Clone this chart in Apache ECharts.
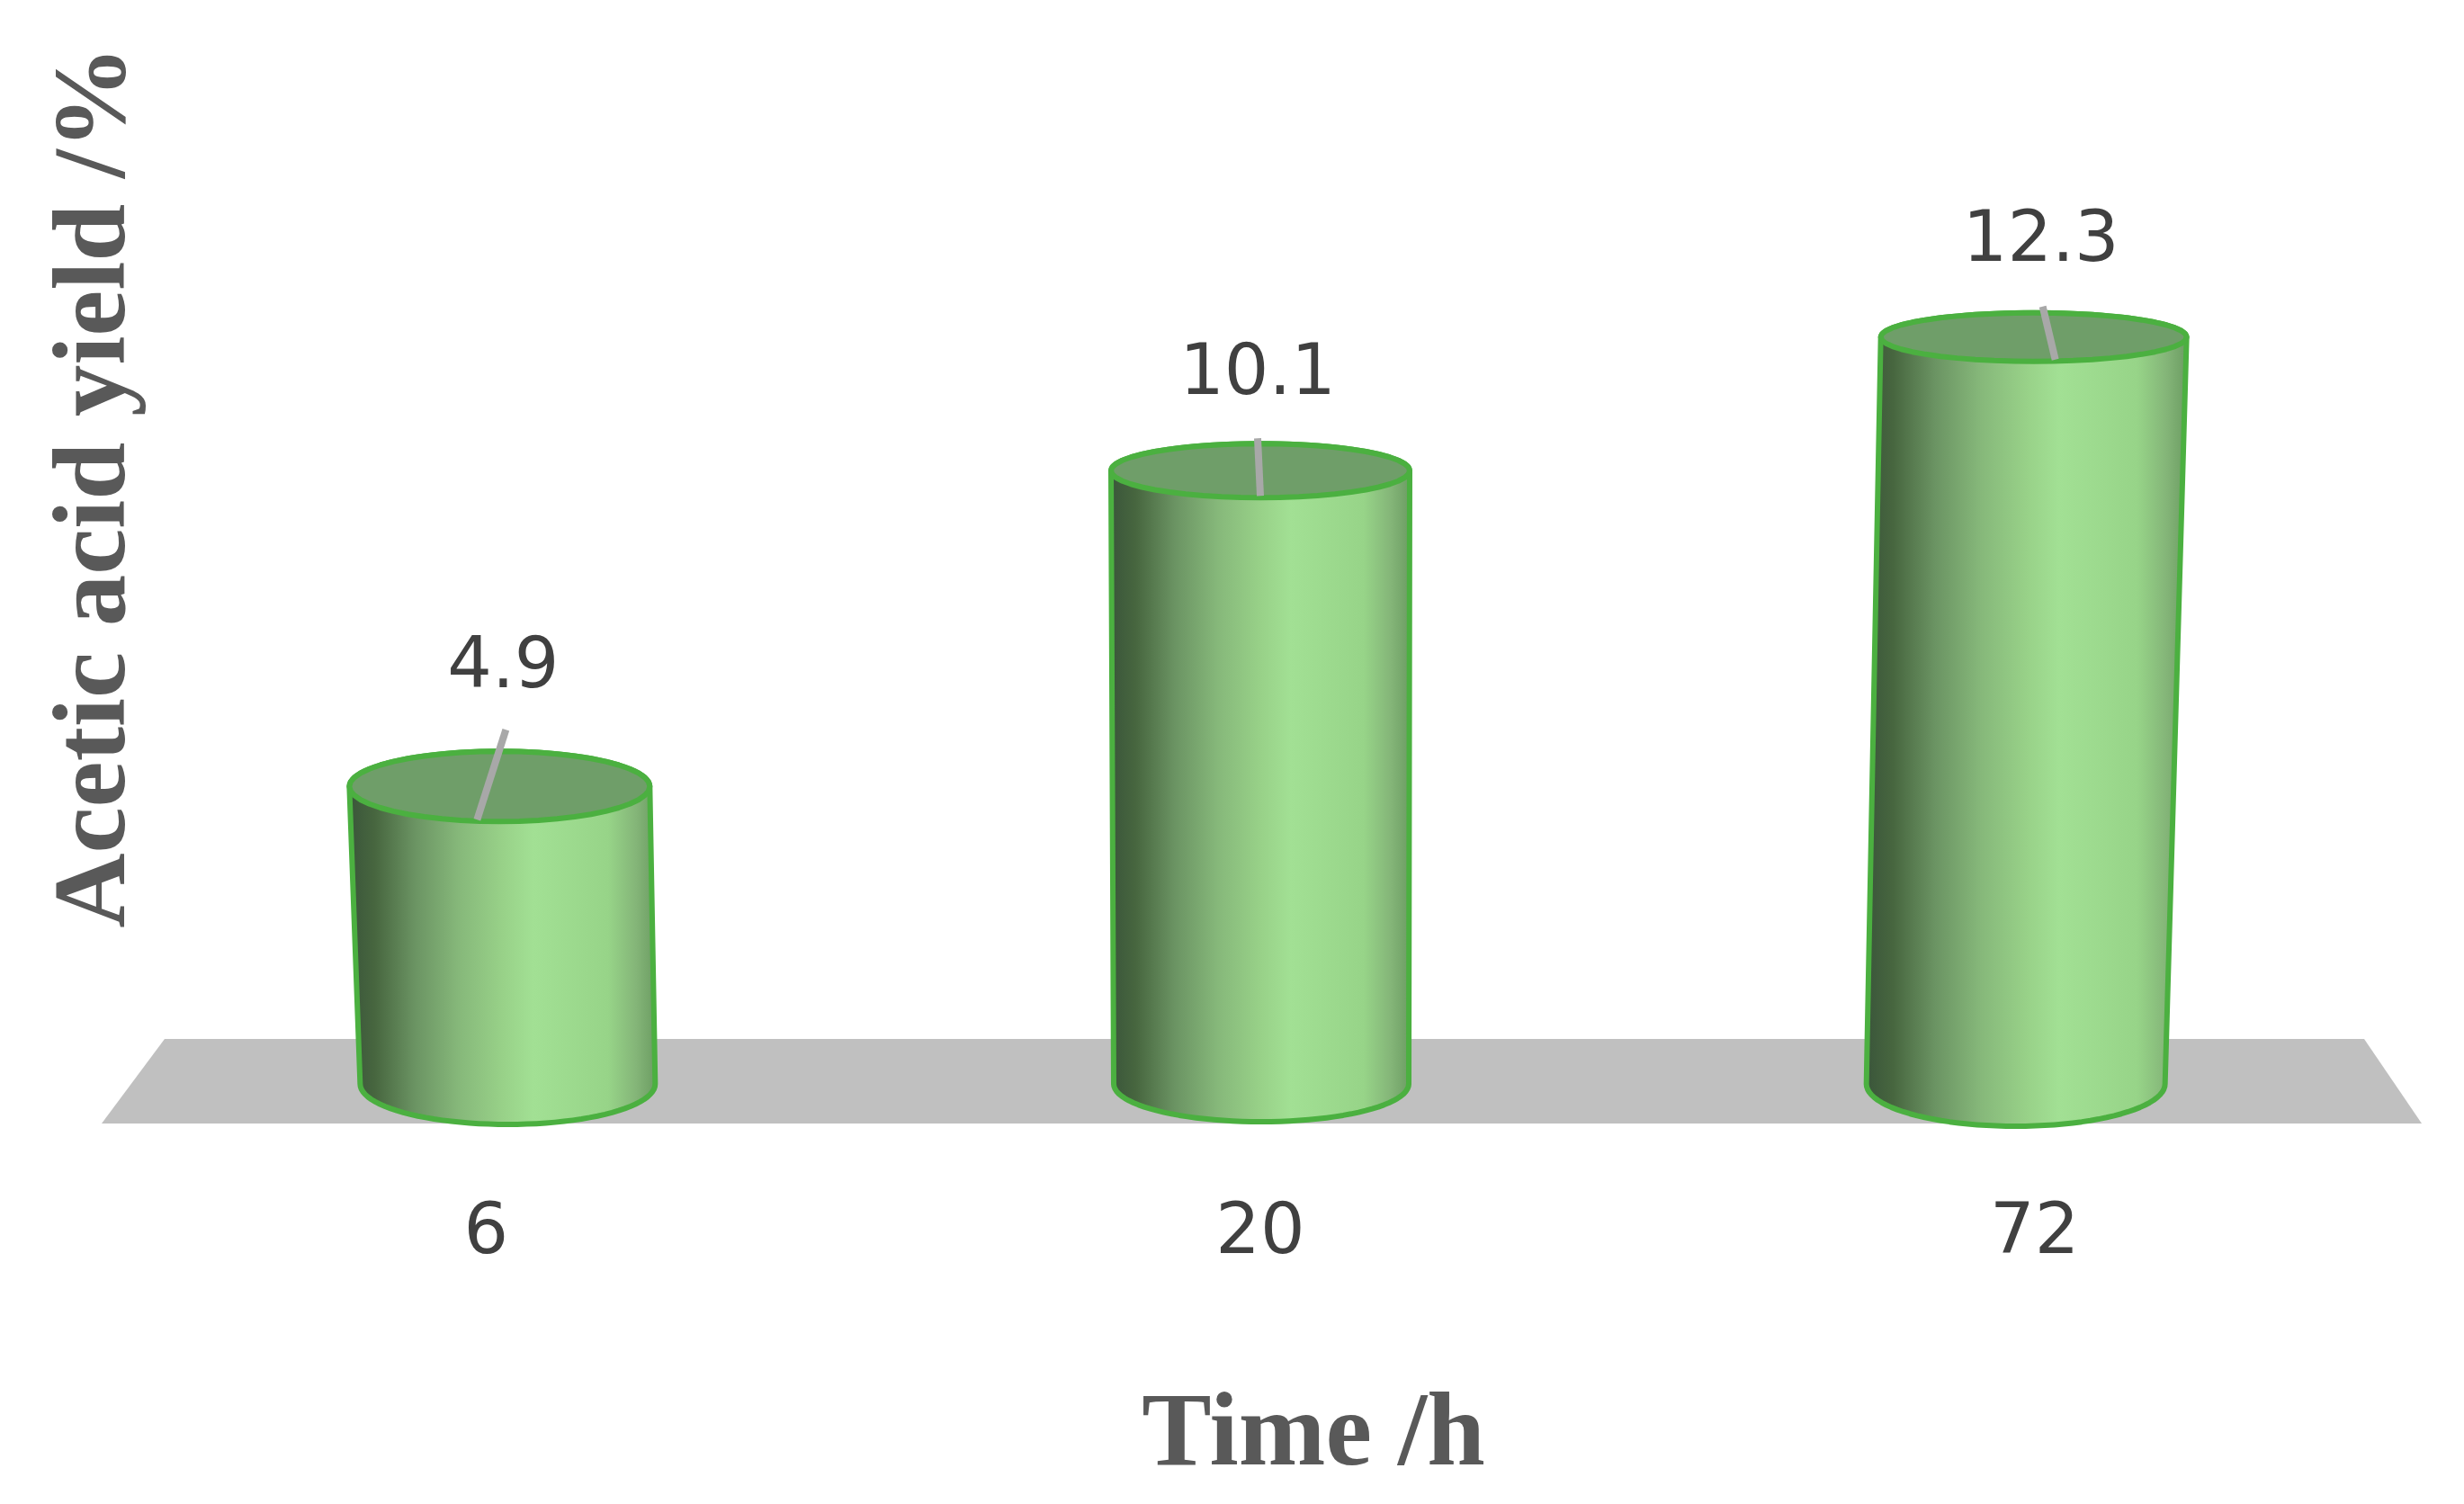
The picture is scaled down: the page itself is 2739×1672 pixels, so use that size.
<!DOCTYPE html>
<html>
<head>
<meta charset="utf-8">
<style>html,body{margin:0;padding:0;background:#fff}#c{width:2739px;height:1672px}</style>
<script src="https://cdn.jsdelivr.net/npm/echarts@6/dist/echarts.min.js"></script>
</head>
<body>
<div id="c"></div>
<script>
const categories = ['6', '20', '72'];
const yields = [4.9, 10.1, 12.3];
const xTitle = 'Time /h';
const yTitle = 'Acetic acid yield /%';

// picture-only perspective of each cylinder (px), not data
const view = [
  {topDx: 15,  baseDx: 24,  topHalf: 167, baseHalf: 164, topRy: 39, baseRy: 45, lineTopDx: 7,  lineTopDy: -63, lineEndDx: -25, labelDx: 19, labelDy: -131},
  {topDx: 0,   baseDx: 1,   topHalf: 166, baseHalf: 164, topRy: 30, baseRy: 42, lineTopDx: -3, lineTopDy: -36, lineEndDx: 0,   labelDx: -3, labelDy: -106},
  {topDx: -1,  baseDx: -21, topHalf: 170, baseHalf: 166, topRy: 27, baseRy: 47, lineTopDx: 10, lineTopDy: -34, lineEndDx: 24,  labelDx: 7,  labelDy: -105}
];
const bodyFill = {
  type: 'linear', x: 0, y: 0, x2: 1, y2: 0,
  colorStops: [
    {offset: 0, color: '#39543a'}, {offset: 0.09, color: '#47663f'}, {offset: 0.22, color: '#6b9463'},
    {offset: 0.36, color: '#86b87a'}, {offset: 0.5, color: '#98d188'}, {offset: 0.6, color: '#a2e094'},
    {offset: 0.84, color: '#97d488'}, {offset: 0.93, color: '#84b578'}, {offset: 1, color: '#699a60'}
  ]
};
const EDGE = '#4bb040';

function arc(cx, cy, rx, ry, from, to) {
  const pts = [], n = 48;
  for (let i = 0; i <= n; i++) {
    const a = from + (to - from) * i / n;
    pts.push([cx + rx * Math.cos(a), cy + ry * Math.sin(a)]);
  }
  return pts;
}

function renderFloor(params, api) {
  const g = params.coordSys;
  const top = g.y + g.height - 50, bottom = g.y + g.height + 44;
  return {
    type: 'polygon', silent: true,
    shape: {points: [[g.x + 3, bottom], [g.x + 73, top], [g.x + g.width - 64, top], [g.x + g.width, bottom]]},
    style: {fill: '#c0c0c0'}
  };
}

function renderCylinder(params, api) {
  const i = params.dataIndex, v = view[i];
  const top = api.coord([api.value(0), api.value(1)]);
  const base = api.coord([api.value(0), 0]);
  const tx = top[0] + v.topDx, ty = top[1];
  const bx = base[0] + v.baseDx, by = base[1];
  const front = arc(tx, ty, v.topHalf, v.topRy, Math.PI, 0).map(function (p) { return [p[0], ty + (ty - p[1])]; });
  const bottom = arc(bx, by, v.baseHalf, v.baseRy, 0, Math.PI);
  const outline = front.concat(bottom);
  const lid = arc(tx, ty, v.topHalf, v.topRy, 0, Math.PI * 2);
  const stroke = {stroke: EDGE, lineWidth: 6, lineJoin: 'round'};
  return {
    type: 'group',
    children: [
      {type: 'polygon', shape: {points: outline}, style: Object.assign({fill: bodyFill}, stroke)},
      {type: 'polygon', shape: {points: lid}, style: Object.assign({fill: '#6f9e69'}, stroke)},
      {type: 'line', shape: {x1: tx + v.lineTopDx, y1: ty + v.lineTopDy, x2: tx + v.lineEndDx, y2: ty + v.topRy - 2},
        style: {stroke: '#a8a8a8', lineWidth: 8}},
      {type: 'text', x: top[0] + v.labelDx, y: ty + v.labelDy,
        style: {text: api.value(1).toFixed(1), fill: '#404040', font: '78px "DejaVu Sans"', align: 'center', verticalAlign: 'middle'}}
    ]
  };
}

const chart = echarts.init(document.getElementById('c'), null, {renderer: 'canvas'});
chart.setOption({
  backgroundColor: '#ffffff',
  animation: false,
  grid: {left: 110, right: 47, top: 57.5, bottom: 467},
  xAxis: {
    type: 'category', data: categories,
    axisLine: {show: false}, axisTick: {show: false}, splitLine: {show: false},
    axisLabel: {margin: 129, fontSize: 78, color: '#404040', fontFamily: 'DejaVu Sans'},
    name: xTitle, nameLocation: 'middle', nameGap: 335,
    nameTextStyle: {fontFamily: 'Liberation Serif', fontWeight: 'bold', fontSize: 116, color: '#595959', padding: [0, 0, 0, 118]}
  },
  yAxis: {
    type: 'value', min: 0, max: 17,
    axisLine: {show: false}, axisTick: {show: false}, axisLabel: {show: false}, splitLine: {show: false},
    name: yTitle, nameLocation: 'middle', nameGap: -56, nameRotate: 90,
    nameTextStyle: {fontFamily: 'Liberation Serif', fontWeight: 'bold', fontSize: 115, color: '#595959', padding: [0, 0, 0, 180]}
  },
  series: [
    {type: 'custom', z: 1, silent: true, renderItem: renderFloor, data: [[0, 0]], encode: {x: 0, y: 1}},
    {type: 'custom', z: 2, renderItem: renderCylinder,
      data: categories.map(function (c, i) { return [i, yields[i]]; }), encode: {x: 0, y: 1}}
  ]
});
</script>
</body>
</html>
